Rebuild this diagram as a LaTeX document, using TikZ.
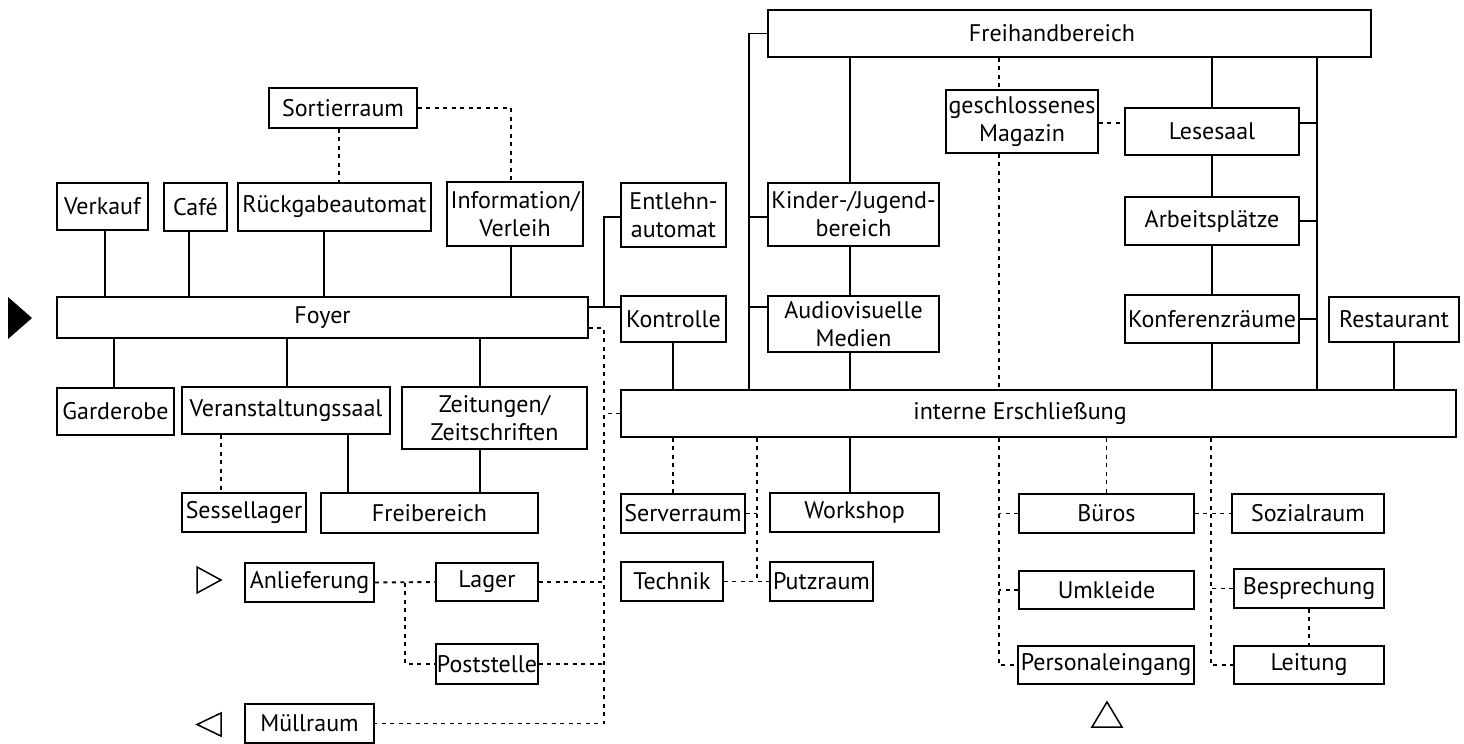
\documentclass[tikz,border=0pt]{standalone}
\usepackage{fontspec}
\setmainfont{PT Sans}

\tikzset{
  room/.style={draw, line width=1.8pt, inner sep=1pt, align=center,
               font=\fontsize{24}{28}\selectfont},
  link/.style={line width=1.8pt},
  dlink/.style={line width=1.9pt, dash pattern=on 4pt off 4.5pt},
  pointer/.style={line width=1.5pt}
}
% room: name, x1, y1, x2, y2, text (pixel grid, y downwards)
\newcommand\room[6]{\node[room, minimum width=#4pt-#2pt, minimum height=#5pt-#3pt]
  (#1) at ({(#2+#4)/2},{(#3+#5)/2}) {#6};}

\begin{document}
\begin{tikzpicture}[x=1pt, y=-1pt]
\useasboundingbox (0,0) rectangle (1464,744);
%
% public area
\room{sortier}{269}{88}{417}{128}{Sortierraum}
\room{verkauf}{57}{183}{148}{230}{Verkauf}
\room{cafe}{164}{183}{227}{231}{Café}
\room{rueck}{238}{183}{431}{231}{Rückgabeautomat}
\room{info}{447}{182}{583}{246}{Information/\\Verleih}
\room{foyer}{57}{297}{588}{338}{Foyer}
\room{garderobe}{57}{388}{174}{435}{Garderobe}
\room{veranst}{182}{387}{390}{434}{Veranstaltungssaal}
\room{zeitung}{402}{387}{587}{449}{Zeitungen/\\Zeitschriften}
\room{sessel}{182}{493}{306}{532}{Sessellager}
\room{frei}{321}{493}{538}{533}{Freibereich}
\room{anlief}{245}{563}{374}{602}{Anlieferung}
\room{lager}{436}{563}{538}{601}{Lager}
\room{post}{436}{644}{538}{684}{Poststelle}
\room{muell}{245}{704}{374}{743}{Müllraum}
%
% library area
\room{freihand}{768}{10}{1371}{57}{Freihandbereich\hspace{35pt}}
\room{magazin}{946}{90}{1098}{153}{geschlossenes\\Magazin}
\room{lesesaal}{1125}{108}{1299}{155}{Lesesaal}
\room{entlehn}{621}{183}{726}{247}{Entlehn-\\automat}
\room{kinder}{768}{183}{939}{246}{Kinder-/Jugend-\\bereich}
\room{arbeit}{1125}{197}{1299}{245}{Arbeitsplätze}
\room{kontrolle}{621}{296}{726}{342}{Kontrolle}
\room{audio}{768}{296}{939}{352}{Audiovisuelle\\Medien}
\room{konferenz}{1125}{295}{1299}{343}{Konferenzräume}
\room{restaurant}{1329}{297}{1459}{342}{Restaurant}
\room{intern}{621}{390}{1456}{437}{interne Erschließung\hspace{37pt}}
%
% staff area
\room{server}{621}{494}{745}{533}{Serverraum}
\room{workshop}{770}{493}{939}{532}{Workshop}
\room{technik}{621}{562}{723}{601}{Technik}
\room{putz}{770}{562}{873}{601}{Putzraum}
\room{bueros}{1019}{494}{1194}{533}{Büros}
\room{umkleide}{1019}{571}{1194}{609}{Umkleide}
\room{personal}{1018}{646}{1194}{684}{Personaleingang}
\room{sozial}{1232}{494}{1384}{533}{Sozialraum}
\room{besprech}{1234}{569}{1384}{608}{Besprechung}
\room{leitung}{1234}{646}{1384}{684}{Leitung}
%
% entrances
\fill (8,297) -- (32,318) -- (8,339) -- cycle;
\draw[pointer] (197,567) -- (221,580) -- (197,593) -- cycle;
\draw[pointer] (221,713) -- (197,724.5) -- (221,736) -- cycle;
\draw[pointer] (1092,727) -- (1107,702) -- (1122,727) -- cycle;
%
% forks
\coordinate (kfork) at (604,307);
\coordinate (dfork) at (604,328);
\coordinate (pfork) at (405,0);
\coordinate (ffork) at (749,0);
\coordinate (kifork) at (749,217);
\coordinate (afork) at (749,307);
\coordinate (rfork) at (1317,0);
\coordinate (lfork) at (1317,123);
\coordinate (sfork) at (757,0);
\coordinate (bfork) at (999,0);
\coordinate (tfork) at (1211,0);
%
% solid connections
\draw[link] (verkauf.south -| 105,0) -- (foyer.north -| 105,0);
\draw[link] (cafe.south -| 189,0) -- (foyer.north -| 189,0);
\draw[link] (rueck.south -| 324,0) -- (foyer.north -| 324,0);
\draw[link] (info.south -| 511,0) -- (foyer.north -| 511,0);
\draw[link] (foyer.south -| 114,0) -- (garderobe.north -| 114,0);
\draw[link] (foyer.south -| 287,0) -- (veranst.north -| 287,0);
\draw[link] (foyer.south -| 480,0) -- (zeitung.north -| 480,0);
\draw[link] (veranst.south -| 348,0) -- (frei.north -| 348,0);
\draw[link] (zeitung.south -| 480,0) -- (frei.north -| 480,0);
\draw[link] (foyer.east |- kfork) -- (kontrolle.west |- kfork);
\draw[link] (kfork) |- (entlehn.west |- kifork);
\draw[link] (kontrolle.south -| 673,0) -- (intern.north -| 673,0);
\draw[link] (freihand.west) -| (intern.north -| ffork);
\draw[link] (kifork) -- (kinder.west |- kifork);
\draw[link] (afork) -- (audio.west |- afork);
\draw[link] (freihand.south -| 850,0) -- (kinder.north -| 850,0);
\draw[link] (kinder.south -| 850,0) -- (audio.north -| 850,0);
\draw[link] (audio.south -| 850,0) -- (intern.north -| 850,0);
\draw[link] (intern.south -| 850,0) -- (workshop.north -| 850,0);
\draw[link] (freihand.south -| lesesaal) -- (lesesaal.north);
\draw[link] (lesesaal.south) -- (arbeit.north);
\draw[link] (arbeit.south) -- (konferenz.north);
\draw[link] (konferenz.south) -- (intern.north -| konferenz);
\draw[link] (freihand.south -| rfork) -- (intern.north -| rfork);
\draw[link] (lesesaal.east |- lfork) -- (lfork);
\draw[link] (arbeit.east) -- (arbeit.east -| rfork);
\draw[link] (konferenz.east) -- (konferenz.east -| rfork);
\draw[link] (restaurant.south) -- (intern.north -| restaurant);
%
% dotted connections
\draw[dlink] (sortier.south -| 339,0) -- (rueck.north -| 339,0);
\draw[dlink] (sortier.east) -| (info.north -| 511,0);
\draw[dlink] (veranst.south -| 221,0) -- (sessel.north -| 221,0);
\draw[dlink] (foyer.east |- dfork) -- (dfork) |- (muell.east);
\draw[dlink] (intern.west) -- (intern.west -| dfork);
\draw[dlink] (lager.east) -- (lager.east -| dfork);
\draw[dlink] (post.east) -- (post.east -| dfork);
\draw[dlink] (anlief.east) -- (lager.west);
\draw[dlink] (anlief.east -| pfork) |- (post.west);
\draw[dlink] (freihand.south -| bfork) -- (magazin.north -| bfork);
\draw[dlink] (magazin.south -| bfork) -- (intern.north -| bfork);
\draw[dlink] (magazin.east |- lfork) -- (lesesaal.west |- lfork);
\draw[dlink] (intern.south -| 673,0) -- (server.north -| 673,0);
\draw[dlink] (intern.south -| sfork) |- (putz.west);
\draw[dlink] (server.east) -- (server.east -| sfork);
\draw[dlink] (technik.east) -- (technik.east -| sfork);
\draw[dlink] (intern.south -| bfork) |- (personal.west);
\draw[dlink] (bueros.west) -- (bueros.west -| bfork);
\draw[dlink] (umkleide.west) -- (umkleide.west -| bfork);
\draw[dlink] (intern.south -| bueros) -- (bueros.north);
\draw[dlink] (intern.south -| tfork) |- (leitung.west);
\draw[dlink] (bueros.east) -- (sozial.west);
\draw[dlink] (besprech.west) -- (besprech.west -| tfork);
\draw[dlink] (besprech.south) -- (leitung.north);
\end{tikzpicture}
\end{document}
